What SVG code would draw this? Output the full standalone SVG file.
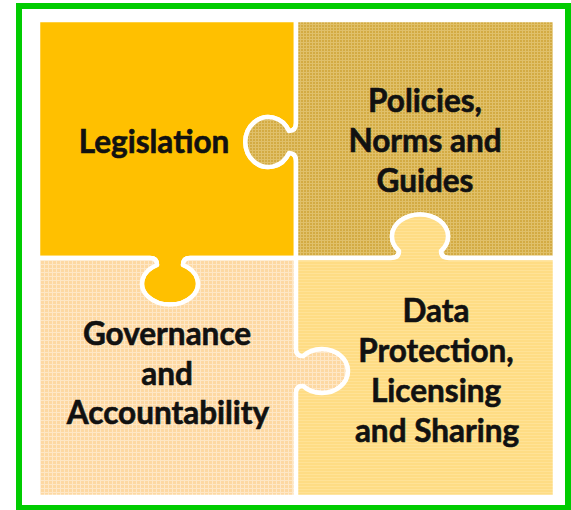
<svg xmlns="http://www.w3.org/2000/svg" width="571" height="510" viewBox="0 0 571 510">
<style>
.piece{stroke:#FFFFFF;stroke-width:4.5;stroke-linejoin:round}
.lbl{font-family:Lato,"Liberation Sans",sans-serif;font-weight:bold;font-size:31.5px;fill:#111111;stroke:#111111;stroke-width:0.6;text-anchor:middle}
</style>
<defs>
<pattern id="gridOlive" width="3" height="3" patternUnits="userSpaceOnUse">
<rect width="3" height="3" fill="#D3AB43"/>
<path d="M0 0.5H3M0.5 0V3" stroke="#E0C06A" stroke-width="1"/>
</pattern>
<pattern id="gridPeach" width="4" height="4" patternUnits="userSpaceOnUse">
<rect width="4" height="4" fill="#FDD8A2"/>
<path d="M0 0.5H4M0.5 0V4" stroke="#FEE7C6" stroke-width="1"/>
</pattern>
<pattern id="gridYellow" width="3" height="3" patternUnits="userSpaceOnUse">
<rect width="3" height="3" fill="#FEDC84"/>
<path d="M0 0.5H3" stroke="#FFE296" stroke-width="1"/>
</pattern>
</defs>
<rect x="0" y="0" width="571" height="510" fill="#FFFFFF"/>
<rect id="frame" x="19" y="6" width="549" height="502" fill="none" stroke="#00CC00" stroke-width="6"/>
<g id="legislation">
<path class="piece" fill="#FFC000" d="M38 20 L296 20 L296 123 Q296 131 289 131 A23 25 0 1 0 289 153 Q296 153 296 161 L296 258 L190 258 Q183 258 183 265 A28 21 0 1 1 157 265 Q157 258 150 258 L38 258 Z"/>
<text class="lbl" x="154" y="153">Legislation</text>
</g>
<g id="policies">
<path class="piece" fill="url(#gridOlive)" d="M296 20 L555 20 L555 258 L449 258 Q441 258 441 251 A28 22 0 1 0 399 251 Q399 258 391 258 L296 258 L296 161 Q296 153 289 153 A23 25 0 1 1 289 131 Q296 131 296 123 Z"/>
<text class="lbl" x="425" y="112">Policies,</text>
<text class="lbl" x="425" y="152">Norms and</text>
<text class="lbl" x="425" y="192">Guides</text>
</g>
<g id="governance">
<path class="piece" fill="url(#gridPeach)" d="M38 258 L150 258 Q157 258 157 265 A28 21 0 1 0 183 265 Q183 258 190 258 L296 258 L296 349 Q296 356 303 356 A26 22 0 1 1 303 386 Q296 386 296 393 L296 497 L38 497 Z"/>
<text class="lbl" x="167" y="345">Governance</text>
<text class="lbl" x="167" y="385">and</text>
<text class="lbl" x="168" y="424">Accountability</text>
</g>
<g id="dataprotection">
<path class="piece" fill="url(#gridYellow)" d="M296 258 L391 258 Q399 258 399 251 A28 22 0 1 1 441 251 Q441 258 449 258 L555 258 L555 497 L296 497 L296 393 Q296 386 303 386 A26 22 0 1 0 303 356 Q296 356 296 349 Z"/>
<text class="lbl" x="436" y="322">Data</text>
<text class="lbl" x="436" y="362">Protection,</text>
<text class="lbl" x="436" y="402">Licensing</text>
<text class="lbl" x="437" y="442">and Sharing</text>
</g>
<g id="connectors"></g>
</svg>
